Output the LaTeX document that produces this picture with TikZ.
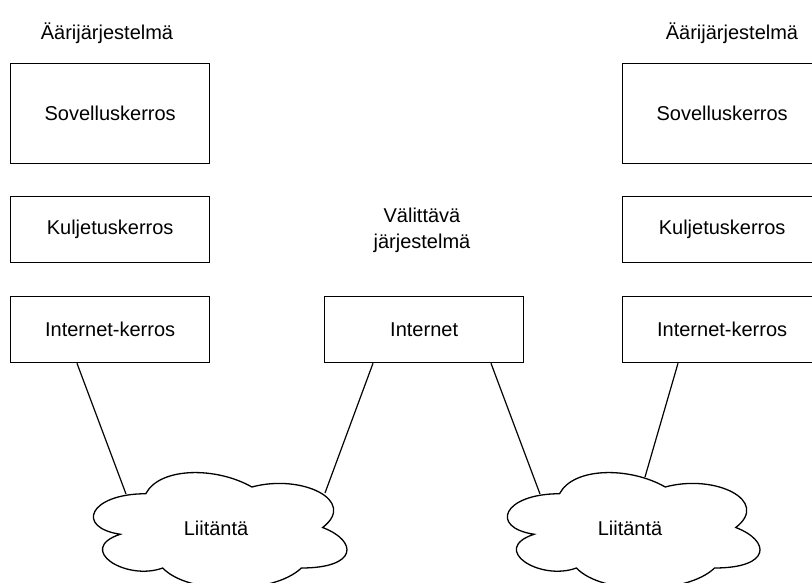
\documentclass[tikz,border=0pt]{standalone}
\usepackage{fontspec}
\setmainfont{Liberation Sans}
\usetikzlibrary{calc}
\begin{document}
\begin{tikzpicture}[x=1pt,y=-1pt,
  every node/.style={font=\fontsize{20}{26}\selectfont, text=black},
  layerbox/.style={draw=black, line width=1.3pt, minimum width=199pt, inner sep=0pt, anchor=north west},
  tall/.style={minimum height=100pt},
  short/.style={minimum height=66pt},
  link/.style={draw=black, line width=1.2pt},
  cloudline/.style={draw=black, line width=1.3pt}]
\useasboundingbox (0,0) rectangle (812,583);

% titles
\node (t1) at (107,33) {Äärijärjestelmä};
\node (t2) at (732,33) {Äärijärjestelmä};
\node[align=center] (t3) at (422,230) {Välittävä\\järjestelmä};

% left stack
\node[layerbox,tall] (s1) at (10,63) {Sovelluskerros};
\node[layerbox,short] (k1) at (10,196) {Kuljetuskerros};
\node[layerbox,short] (i1) at (10,296) {Internet-kerros};

% right stack
\node[layerbox,tall] (s2) at (622,63) {Sovelluskerros};
\node[layerbox,short] (k2) at (622,196) {Kuljetuskerros};
\node[layerbox,short] (i2) at (622,296) {Internet-kerros};

% middle
\node[layerbox,short] (net) at (324,296) {Internet};

% clouds
\begin{scope}[shift={(75,460)}, x=283pt, y=-135pt]
  \draw[cloudline] (0.25,0.25) .. controls (0.05,0.25) and (0,0.5) .. (0.16,0.55)
    .. controls (0,0.66) and (0.18,0.9) .. (0.31,0.8)
    .. controls (0.4,1) and (0.7,1) .. (0.8,0.8)
    .. controls (1,0.8) and (1,0.6) .. (0.875,0.5)
    .. controls (1,0.3) and (0.8,0.1) .. (0.625,0.2)
    .. controls (0.5,0.05) and (0.3,0.05) .. (0.25,0.25) -- cycle;
\end{scope}
\node (c1) at (216,528) {Liitäntä};
\begin{scope}[shift={(489,460)}, x=282pt, y=-135pt]
  \draw[cloudline] (0.25,0.25) .. controls (0.05,0.25) and (0,0.5) .. (0.16,0.55)
    .. controls (0,0.66) and (0.18,0.9) .. (0.31,0.8)
    .. controls (0.4,1) and (0.7,1) .. (0.8,0.8)
    .. controls (1,0.8) and (1,0.6) .. (0.875,0.5)
    .. controls (1,0.3) and (0.8,0.1) .. (0.625,0.2)
    .. controls (0.5,0.05) and (0.3,0.05) .. (0.25,0.25) -- cycle;
\end{scope}
\node (c2) at (630,528) {Liitäntä};

% connector end points on the clouds
\coordinate (c1l) at (126,494);
\coordinate (c1r) at (325,493);
\coordinate (c2l) at (540,494);
\coordinate (c2r) at (645,477);

% connectors
\draw[link] ($(i1.south west)+(67,0)$) -- (c1l);
\draw[link] ($(net.south west)+(49,0)$) -- (c1r);
\draw[link] ($(net.south west)+(167,0)$) -- (c2l);
\draw[link] ($(i2.south west)+(56,0)$) -- (c2r);
\end{tikzpicture}
\end{document}
